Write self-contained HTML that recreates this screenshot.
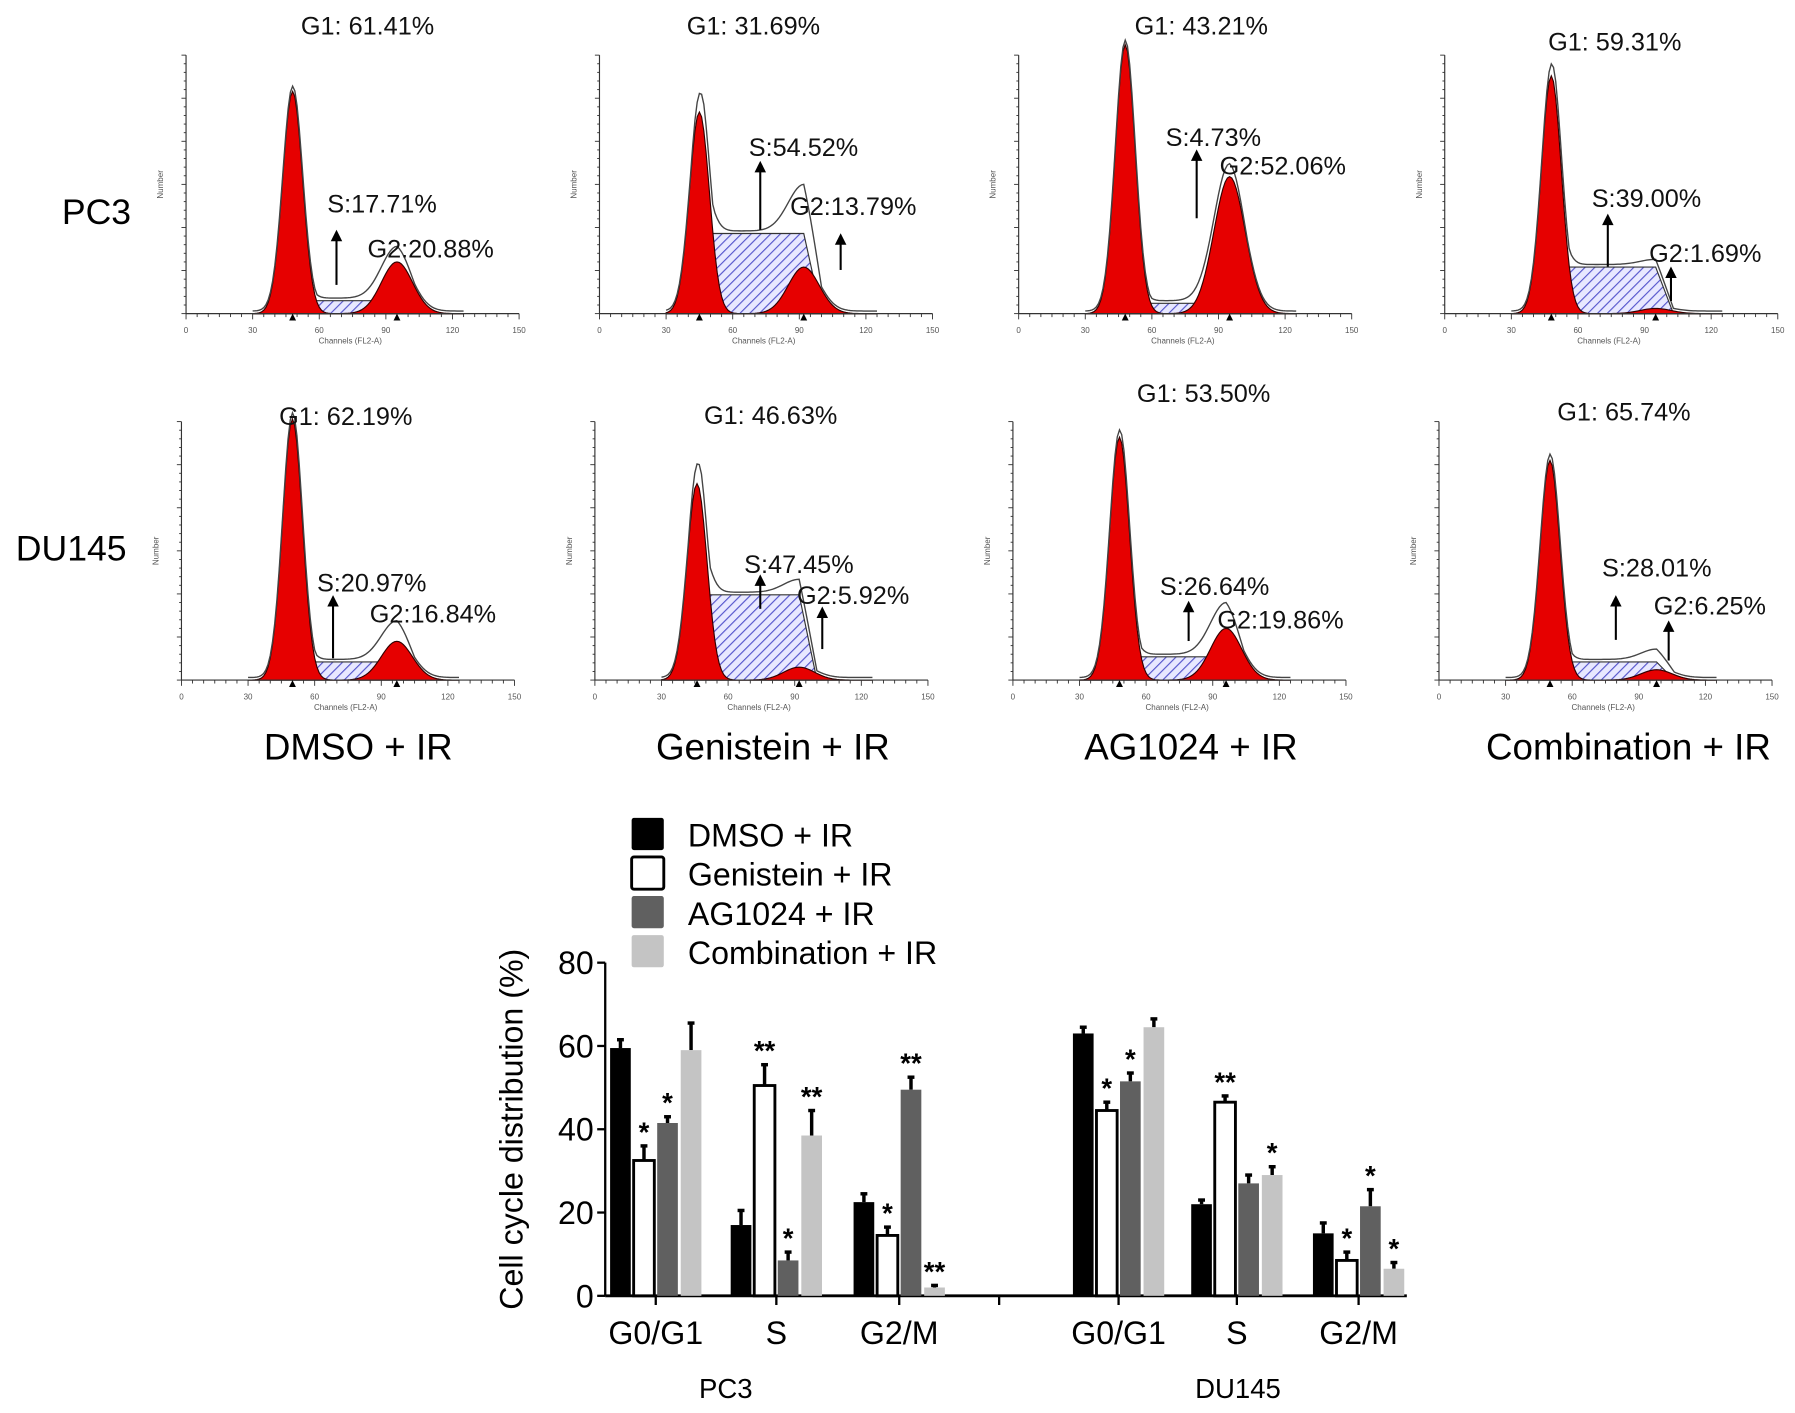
<!DOCTYPE html>
<html><head><meta charset="utf-8"><style>
html,body{margin:0;padding:0;background:#fff}
svg{display:block}
text{font-family:"Liberation Sans",sans-serif}
</style></head><body>
<svg id="fig" width="1795" height="1413" viewBox="0 0 1563 1230" preserveAspectRatio="none">
<defs>
<pattern id="hatch" width="6" height="6" patternUnits="userSpaceOnUse" patternTransform="rotate(45)">
<rect width="6" height="6" fill="#e8e8ff"/><line x1="0" y1="0" x2="0" y2="6" stroke="#5555cc" stroke-width="2"/>
</pattern>
</defs>
<g id="hist"></g>
<text x="84" y="195" font-size="31" text-anchor="middle">PC3</text>
<text x="62" y="488" font-size="31" text-anchor="middle">DU145</text>
<text x="312" y="661" font-size="32" text-anchor="middle">DMSO + IR</text>
<text x="673" y="661" font-size="32" text-anchor="middle">Genistein + IR</text>
<text x="1037" y="661" font-size="32" text-anchor="middle">AG1024 + IR</text>
<text x="1418" y="661" font-size="32" text-anchor="middle">Combination + IR</text>
<g id="bars"></g>
</svg>
<script>
// ---- bar chart data ----
const seriesNames = ["DMSO + IR","Genistein + IR","AG1024 + IR","Combination + IR"];
const seriesColors = ["#000","#fff","#606060","#c4c4c4"];
const phases = ["G0/G1","S","G2/M","G0/G1","S","G2/M"];
const lines = ["PC3","DU145"];
const dmso = [59.5,17,22.5,63,22,15];
const genistein = [32.5,50.5,14.5,44.5,46.5,8.5];
const ag1024 = [41.5,8.5,49.5,51.5,27,21.5];
const combo = [59,38.5,2,64.5,29,6.5];
const errDmso = [2,3.5,2,1.5,1,2.5];
const errGen = [3.5,5,2,2,1.5,2];
const errAg = [1.5,2,3,2,2,4];
const errCombo = [6.5,6,0.5,2,2,1.5];
const starsGen = ["*","**","*","*","**","*"];
const starsAg = ["*","*","**","*","","*"];
const starsCombo = ["","**","**","","*","*"];
const yTicks = [0,20,40,60,80];

// ---- histogram data ----
const g1Peak = [0.86,0.78,1.04,0.92,1.01,0.76,0.94,0.85];
const g2Peak = [0.20,0.18,0.53,0.02,0.15,0.05,0.20,0.04];
const sLevel = [0.05,0.31,0.04,0.18,0.07,0.33,0.09,0.07];
const g1Chan = [48,45,48,48,50,46,48,50];
const g2Chan = [95,92,95,95,97,92,96,98];
const g1Label = ["G1: 61.41%","G1: 31.69%","G1: 43.21%","G1: 59.31%","G1: 62.19%","G1: 46.63%","G1: 53.50%","G1: 65.74%"];
const sLabel = ["S:17.71%","S:54.52%","S:4.73%","S:39.00%","S:20.97%","S:47.45%","S:26.64%","S:28.01%"];
const g2Label = ["G2:20.88%","G2:13.79%","G2:52.06%","G2:1.69%","G2:16.84%","G2:5.92%","G2:19.86%","G2:6.25%"];

const NS="http://www.w3.org/2000/svg";
function mk(tag,attrs,parent){const e=document.createElementNS(NS,tag);for(const k in attrs)e.setAttribute(k,attrs[k]);parent.appendChild(e);return e;}

const panelX=[162,522,887,1258,158,518,882,1253];
const panelBase=[273,273,273,273,592,592,592,592];
const PH=225, PW=290;
const labelPos=[
 [[262,22],[285,177],[320,216],[293,248,200],null],
 [[598,22],[652,128],[688,179],[662,200,140],[732,235,203]],
 [[988,22],[1015,119],[1062,144],[1042,190,130],null],
 [[1348,36],[1386,172],[1436,220],[1400,232,186],[1455,262,232]],
 [[243,362],[276,507],[322,534],[290,573,518],null],
 [[613,361],[648,491],[694,518],[662,530,500],[716,565,528]],
 [[990,342],[1010,510],[1060,539],[1035,558,523],null],
 [[1356,358],[1395,494],[1440,527],[1407,557,518],[1453,575,540]]
];
const hist=document.getElementById('hist');
function gauss(c,m,s){return Math.exp(-0.5*((c-m)/s)**2);}
for(let p=0;p<8;p++){
  const g=mk('g',{},hist);
  
  
  const x0=panelX[p],b=panelBase[p];
  const X=c=>x0+c/150*PW, Y=v=>b-v*PH;
  let sP='',g1P='',g2P='',tot='';
  for(let c=30;c<=125;c+=1){
    const sv=sLevel[p]*(c>g1Chan[p]-4&&c<g2Chan[p]+8?1:0)*Math.min(1,Math.max(0,(c-g1Chan[p]+4)/6))*Math.min(1,Math.max(0,(g2Chan[p]+8-c)/8));
    const v1=g1Peak[p]*gauss(c,g1Chan[p],4.5), v2=g2Peak[p]*gauss(c,g2Chan[p],7);
    sP+=(c==30?'M':'L')+X(c)+','+Y(sv);
    g1P+=(c==30?'M':'L')+X(c)+','+Y(v1);
    g2P+=(c==30?'M':'L')+X(c)+','+Y(v2);
    tot+=(c==30?'M':'L')+X(c)+','+Y(Math.max(v1,sv)+v2+0.01+0.3*Math.min(v1,sv));
  }
  const close='L'+X(125)+','+b+'L'+X(30)+','+b+'Z';
  const s=mk('path',{d:sP+close,fill:'url(#hatch)',stroke:'#333','stroke-width':1},g);
  
  const a=mk('path',{d:g1P+close,fill:'#e60000',stroke:'#300','stroke-width':1},g);
  
  const c2=mk('path',{d:g2P+close,fill:'#e60000',stroke:'#300','stroke-width':1},g);
  
  mk('path',{d:tot,fill:'none',stroke:'#444','stroke-width':1.2},g);
  mk('line',{x1:x0,y1:b,x2:x0,y2:b-PH,stroke:'#333','stroke-width':1},g);
  mk('line',{x1:x0,y1:b,x2:x0+PW,y2:b,stroke:'#333','stroke-width':1},g);
  for(let i=0;i<=30;i++){mk('line',{x1:x0-(i%5==0?4:2),y1:b-i*PH/30,x2:x0,y2:b-i*PH/30,stroke:'#333','stroke-width':0.8},g);}
  for(let i=0;i<=30;i++){mk('line',{x1:x0+i*PW/30,y1:b,x2:x0+i*PW/30,y2:b+(i%6==0?5:3),stroke:'#333','stroke-width':0.8},g);}
  ['0','30','60','90','120','150'].forEach((t,i)=>{mk('text',{x:x0+i*PW/5,y:b+17,'font-size':7,'text-anchor':'middle',fill:'#555'},g).textContent=t;});
  mk('text',{x:x0+143,y:b+26,'font-size':7,'text-anchor':'middle',fill:'#555'},g).textContent='Channels (FL2-A)';
  const yl=mk('text',{x:0,y:0,'font-size':7,'text-anchor':'middle',fill:'#555',transform:`translate(${x0-20},${b-PH/2}) rotate(-90)`},g);yl.textContent='Number';
  [g1Chan[p],g2Chan[p]].forEach(c=>mk('path',{d:`M${X(c)-3},${b+6}L${X(c)+3},${b+6}L${X(c)},${b}Z`,fill:'#000'},g));
  const L=labelPos[p];
  const t1=mk('text',{x:L[0][0],y:L[0][1]+8,'font-size':22,fill:'#111'},g);t1.textContent=g1Label[p];
  
  const t2=mk('text',{x:L[1][0],y:L[1][1]+8,'font-size':22,fill:'#111'},g);t2.textContent=sLabel[p];
  
  const t3=mk('text',{x:L[2][0],y:L[2][1]+8,'font-size':22,fill:'#111'},g);t3.textContent=g2Label[p];
  
  [L[3],L[4]].forEach(ar=>{if(!ar)return;
    mk('line',{x1:ar[0],y1:ar[1],x2:ar[0],y2:ar[2]+8,stroke:'#000','stroke-width':1.8},g);
    mk('path',{d:`M${ar[0]-5},${ar[2]+10}L${ar[0]+5},${ar[2]+10}L${ar[0]},${ar[2]}Z`,fill:'#000'},g);});
}

// ---- bar chart ----
const bars=document.getElementById('bars');
const axX=527, y0px=1128, y80px=838, axEnd=1225;
const yS=v=>y0px-(y0px-y80px)*v/80;
const groupCenters=[571,676,783,974,1077,1183];
const BW=18, step=20.5;
mk('line',{x1:axX,y1:y0px,x2:axX,y2:y80px,stroke:'#000','stroke-width':2},bars);
mk('line',{x1:axX,y1:y0px,x2:axEnd,y2:y0px,stroke:'#000','stroke-width':2.5},bars);
yTicks.forEach(t=>{
  mk('line',{x1:axX-7,y1:yS(t),x2:axX,y2:yS(t),stroke:'#000','stroke-width':2},bars);
  const tx=mk('text',{x:axX-10,y:yS(t)+10,'font-size':28,'text-anchor':'end'},bars);tx.textContent=t;
  
});
const yt=mk('text',{x:0,y:0,'font-size':28,'text-anchor':'middle',transform:`translate(455,983) rotate(-90)`},bars);
yt.textContent='Cell cycle distribution (%)';

mk('line',{x1:870,y1:y0px,x2:870,y2:y0px+8,stroke:'#000','stroke-width':2},bars);
const vals=[dmso,genistein,ag1024,combo], errs=[errDmso,errGen,errAg,errCombo], stars=[null,starsGen,starsAg,starsCombo];
phases.forEach((ph,gi)=>{
  const gc=groupCenters[gi];
  mk('line',{x1:gc,y1:y0px,x2:gc,y2:y0px+8,stroke:'#000','stroke-width':2},bars);
  const pl=mk('text',{x:gc,y:y0px+42,'font-size':28,'text-anchor':'middle'},bars);pl.textContent=ph;
  
  for(let si=0;si<4;si++){
    const v=vals[si][gi], e=errs[si][gi];
    const x=gc-2*step+si*step+ (step-BW)/2;
    const top=yS(v);
    const cx=x+BW/2;
    mk('line',{x1:cx,y1:top,x2:cx,y2:yS(v+e),stroke:'#000','stroke-width':3},bars);
    mk('line',{x1:cx-3,y1:yS(v+e),x2:cx+3,y2:yS(v+e),stroke:'#000','stroke-width':3},bars);
    const r=mk('rect',{x:x,y:top,width:BW,height:y0px-top,fill:seriesColors[si],stroke:si==1?'#000':'none','stroke-width':2.5},bars);
    
    
    if(stars[si]&&stars[si][gi]){
      const st=mk('text',{x:cx,y:yS(v+e)-4,'font-size':24,'font-weight':'bold','text-anchor':'middle'},bars);st.textContent=stars[si][gi];
      
    }
  }
});
[[632,lines[0]],[1078,lines[1]]].forEach(([x,t])=>{const e=mk('text',{x:x,y:1217,'font-size':24,'text-anchor':'middle'},bars);e.textContent=t;
  });
seriesNames.forEach((n,i)=>{
  const y=712+i*34;
  const r=mk('rect',{x:550,y:y,width:28,height:28,rx:2,fill:seriesColors[i],stroke:i==1?'#000':'none','stroke-width':2.5},bars);
  
  const t=mk('text',{x:599,y:y+25,'font-size':28},bars);t.textContent=n;
  
});
</script>
</body></html>
